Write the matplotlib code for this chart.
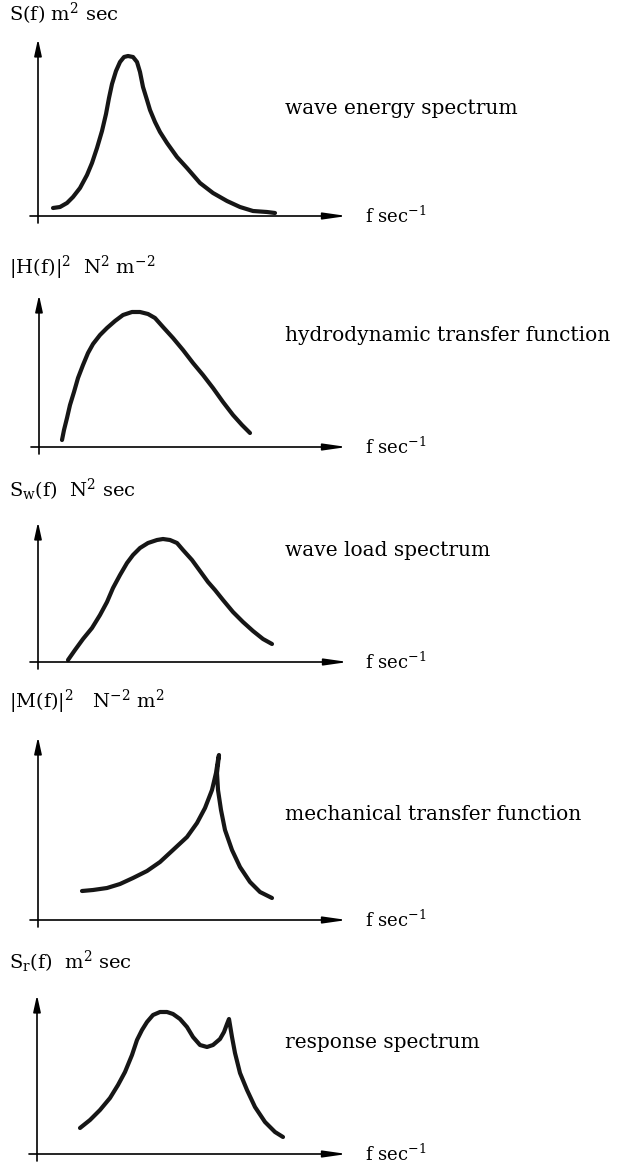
import matplotlib
matplotlib.use("Agg")
import matplotlib.pyplot as plt

plt.rcParams['font.family'] = ['DejaVu Serif']
plt.rcParams['mathtext.fontset'] = 'dejavuserif'

W, H = 634, 1166

# curve samples, f in arbitrary units (origin = axis corner), amplitude likewise
wave_f = [0.15, 0.22, 0.29, 0.35, 0.42, 0.49, 0.54, 0.59, 0.64, 0.68, 0.71,
          0.74, 0.78, 0.82, 0.86, 0.90, 0.95, 0.99, 1.02, 1.05, 1.09, 1.12,
          1.17, 1.22, 1.29, 1.39, 1.49, 1.62, 1.75, 1.89, 2.02, 2.15, 2.29,
          2.37]
wave_s = [0.08, 0.09, 0.13, 0.19, 0.28, 0.41, 0.53, 0.68, 0.85, 1.02, 1.18,
          1.32, 1.45, 1.54, 1.59, 1.60, 1.59, 1.54, 1.44, 1.29, 1.16, 1.06,
          0.94, 0.84, 0.73, 0.59, 0.48, 0.33, 0.23, 0.15, 0.09, 0.05, 0.04,
          0.03]

hydro_f = [0.23, 0.25, 0.28, 0.31, 0.35, 0.39, 0.44, 0.49, 0.54, 0.61, 0.68,
           0.76, 0.84, 0.93, 1.01, 1.09, 1.16, 1.24, 1.34, 1.44, 1.54, 1.64,
           1.74, 1.84, 1.94, 2.03, 2.11]
hydro_h = [0.07, 0.17, 0.29, 0.42, 0.55, 0.69, 0.82, 0.94, 1.03, 1.12, 1.19,
           1.26, 1.32, 1.35, 1.35, 1.33, 1.29, 1.20, 1.09, 0.97, 0.84, 0.72,
           0.59, 0.45, 0.32, 0.22, 0.14]

load_f = [0.30, 0.37, 0.45, 0.54, 0.62, 0.69, 0.75, 0.82, 0.89, 0.95, 1.02,
          1.10, 1.19, 1.25, 1.32, 1.39, 1.45, 1.54, 1.62, 1.70, 1.77, 1.85,
          1.95, 2.05, 2.15, 2.25, 2.34]
load_s = [0.02, 0.12, 0.23, 0.34, 0.47, 0.60, 0.74, 0.87, 0.99, 1.07, 1.14,
          1.19, 1.22, 1.23, 1.22, 1.19, 1.12, 1.02, 0.91, 0.80, 0.72, 0.62,
          0.50, 0.40, 0.31, 0.23, 0.18]

mech_f = [0.44, 0.55, 0.69, 0.82, 0.95, 1.09, 1.22, 1.35, 1.49, 1.59, 1.67,
          1.74, 1.78, 1.80, 1.81, 1.79, 1.80, 1.83, 1.87, 1.94, 2.02, 2.12,
          2.22, 2.34]
mech_m = [0.29, 0.30, 0.32, 0.36, 0.42, 0.49, 0.58, 0.70, 0.83, 0.97, 1.12,
          1.30, 1.47, 1.60, 1.65, 1.47, 1.30, 1.10, 0.90, 0.70, 0.53, 0.38,
          0.28, 0.22]

resp_f = [0.43, 0.53, 0.63, 0.73, 0.81, 0.88, 0.95, 1.00, 1.05, 1.10, 1.16,
          1.23, 1.30, 1.36, 1.43, 1.50, 1.56, 1.63, 1.70, 1.76, 1.83, 1.87,
          1.90, 1.92, 1.93, 1.95, 1.98, 2.03, 2.10, 2.18, 2.28, 2.38, 2.46]
resp_s = [0.26, 0.34, 0.44, 0.56, 0.69, 0.82, 0.99, 1.14, 1.24, 1.32, 1.39,
          1.42, 1.42, 1.40, 1.35, 1.27, 1.17, 1.09, 1.07, 1.09, 1.15, 1.22,
          1.30, 1.35, 1.29, 1.17, 1.01, 0.81, 0.64, 0.47, 0.32, 0.22, 0.17]

titles = [r"S(f) m$^{2}$ sec",
          r"|H(f)|$^{2}$  N$^{2}$ m$^{-2}$",
          r"S$_{\mathrm{w}}$(f)  N$^{2}$ sec",
          r"|M(f)|$^{2}$   N$^{-2}$ m$^{2}$",
          r"S$_{\mathrm{r}}$(f)  m$^{2}$ sec"]
labels = ["wave energy spectrum",
          "hydrodynamic transfer function",
          "wave load spectrum",
          "mechanical transfer function",
          "response spectrum"]
curves = [(wave_f, wave_s), (hydro_f, hydro_h), (load_f, load_s),
          (mech_f, mech_m), (resp_f, resp_s)]

# panel frame in pixels: origin x, origin y, y-arrow tip, x-arrow tip
frames = [(38, 216, 39, 347), (39, 447, 295, 347), (38, 662, 522, 348),
          (38, 920, 737, 347), (37, 1154, 995, 347)]
title_y = [14, 268, 490, 702, 962]
label_y = [108, 335, 550, 815, 1043]
PX = 100.0  # pixels per unit

fig = plt.figure(figsize=(W / 100, H / 100), dpi=100)
fig.patch.set_facecolor('white')

for (fx, fy), (ox, oy, ty, rx), title, lab, ty_t, ly in zip(
        curves, frames, titles, labels, title_y, label_y):
    left, right = ox - 12, rx + 6
    top, bottom = ty - 6, oy + 12
    ax = fig.add_axes([left / W, 1 - bottom / H, (right - left) / W, (bottom - top) / H])
    ax.set_xlim((left - ox) / PX, (right - ox) / PX)
    ax.set_ylim((oy - bottom) / PX, (oy - top) / PX)
    ax.axis('off')

    xmax = (rx - ox) / PX
    ymax = (oy - ty) / PX
    ax.annotate("", xy=(xmax, 0), xytext=(-0.08, 0),
                arrowprops=dict(arrowstyle="-|>,head_length=1.4,head_width=0.2",
                                lw=1.2, color="black", shrinkA=0, shrinkB=0))
    ax.annotate("", xy=(0, ymax), xytext=(0, -0.07),
                arrowprops=dict(arrowstyle="-|>,head_length=1.0,head_width=0.22",
                                lw=1.2, color="black", shrinkA=0, shrinkB=0))
    ax.plot(fx, fy, color="#161616", lw=3.0, solid_capstyle='round',
            solid_joinstyle='round')

    fig.text(9 / W, 1 - ty_t / H, title, fontsize=14, va='center', ha='left')
    fig.text(285 / W, 1 - ly / H, lab, fontsize=14.5, va='center', ha='left')
    fig.text(365 / W, 1 - oy / H, r"f sec$^{-1}$", fontsize=13, va='center', ha='left')

fig.savefig("out.png", dpi=100)
